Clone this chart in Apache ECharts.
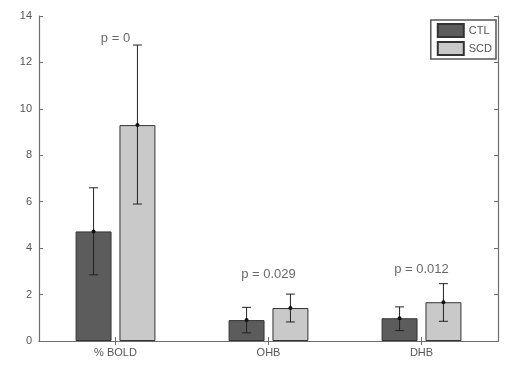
<!DOCTYPE html>
<html>
<head>
<meta charset="utf-8">
<script src="https://cdn.jsdelivr.net/npm/echarts@6/dist/echarts.min.js"></script>
<style>
  html, body { margin: 0; padding: 0; background: #fff; }
  #chart { width: 520px; height: 370px; }
</style>
</head>
<body>
<div id="chart"></div>
<script>
// Data
const categories = ['% BOLD', 'OHB', 'DHB'];
const ctlMean = [4.72, 0.9, 0.98];
const ctlLow = [2.85, 0.35, 0.45];
const ctlHigh = [6.6, 1.45, 1.47];
const scdMean = [9.3, 1.42, 1.67];
const scdLow = [5.9, 0.82, 0.85];
const scdHigh = [12.75, 2.02, 2.47];
const pLabels = ['p = 0', 'p = 0.029', 'p = 0.012'];
const pLabelY = [13.05, 2.85, 3.1];
const yTicks = [0, 2, 4, 6, 8, 10, 12, 14];

const axisColor = '#6e6e6e';
const textColor = '#555';
const font = 'Liberation Sans, Arial, sans-serif';

const barWidthFrac = 0.235;
const barGapFrac = 0.22;

// error bar drawn at the bar's offset within its category
function errorRenderer(sign) {
  return function (params, api) {
    const catW = api.size([1, 0])[0];
    const off = sign * catW * barWidthFrac * (1 + barGapFrac) / 2;
    const lo = api.coord([api.value(0), api.value(1)]);
    const hi = api.coord([api.value(0), api.value(2)]);
    const mid = api.coord([api.value(0), api.value(3)]);
    const cx = mid[0] + off;
    const cap = 4.5;
    const style = { stroke: '#222', lineWidth: 1 };
    return {
      type: 'group',
      children: [
        { type: 'line', shape: { x1: cx, y1: lo[1], x2: cx, y2: hi[1] }, style },
        { type: 'line', shape: { x1: cx - cap, y1: hi[1], x2: cx + cap, y2: hi[1] }, style },
        { type: 'line', shape: { x1: cx - cap, y1: lo[1], x2: cx + cap, y2: lo[1] }, style },
        { type: 'circle', shape: { cx: cx, cy: mid[1], r: 2 }, style: { fill: '#111' } }
      ]
    };
  };
}

const chart = echarts.init(document.getElementById('chart'));

const axisLine = { show: true, lineStyle: { color: axisColor, width: 1.2 } };
const catTick = { show: true, inside: true, length: 4, alignWithLabel: true, lineStyle: { color: axisColor } };
const valTick = { show: true, inside: true, length: 4, lineStyle: { color: axisColor } };

chart.setOption({
  backgroundColor: '#fff',
  animation: false,
  textStyle: { fontFamily: font },
  grid: { left: 39, right: 22, top: 16, bottom: 29 },
  legend: {
    data: ['CTL', 'SCD'],
    orient: 'vertical',
    right: 24,
    top: 20,
    itemWidth: 26,
    itemHeight: 13,
    itemGap: 3,
    padding: [3, 4, 3, 6],
    backgroundColor: '#fff',
    borderColor: '#555',
    borderWidth: 1.5,
    icon: 'rect',
    textStyle: { color: textColor, fontSize: 11, fontFamily: font }
  },
  xAxis: [
    {
      type: 'category',
      data: categories,
      position: 'bottom',
      axisLine: axisLine,
      axisTick: catTick,
      axisLabel: { color: textColor, fontSize: 11, margin: 6 },
      splitLine: { show: false }
    },
    {
      type: 'category',
      data: categories,
      position: 'top',
      axisLine: axisLine,
      axisTick: catTick,
      axisLabel: { show: false },
      splitLine: { show: false }
    }
  ],
  yAxis: [
    {
      type: 'value',
      min: yTicks[0],
      max: yTicks[yTicks.length - 1],
      interval: 2,
      position: 'left',
      axisLine: axisLine,
      axisTick: valTick,
      axisLabel: { color: textColor, fontSize: 11, margin: 7 },
      splitLine: { show: false }
    },
    {
      type: 'value',
      min: yTicks[0],
      max: yTicks[yTicks.length - 1],
      interval: 2,
      position: 'right',
      axisLine: axisLine,
      axisTick: valTick,
      axisLabel: { show: false },
      splitLine: { show: false }
    }
  ],
  series: [
    {
      name: 'CTL',
      type: 'bar',
      data: ctlMean,
      barWidth: (barWidthFrac * 100) + '%',
      barGap: (barGapFrac * 100) + '%',
      itemStyle: { color: '#5c5c5c', borderColor: '#333', borderWidth: 1 }
    },
    {
      name: 'SCD',
      type: 'bar',
      data: scdMean,
      barWidth: (barWidthFrac * 100) + '%',
      barGap: (barGapFrac * 100) + '%',
      itemStyle: { color: '#c9c9c9', borderColor: '#333', borderWidth: 1 }
    },
    {
      type: 'custom',
      renderItem: errorRenderer(-1),
      encode: { x: 0, y: [1, 2] },
      data: categories.map((c, i) => [i, ctlLow[i], ctlHigh[i], ctlMean[i]]),
      z: 5
    },
    {
      type: 'custom',
      renderItem: errorRenderer(1),
      encode: { x: 0, y: [1, 2] },
      data: categories.map((c, i) => [i, scdLow[i], scdHigh[i], scdMean[i]]),
      z: 5
    },
    {
      type: 'scatter',
      symbol: 'circle',
      symbolSize: 1,
      itemStyle: { color: 'rgba(0,0,0,0)' },
      data: categories.map((c, i) => [i, pLabelY[i]]),
      label: {
        show: true,
        position: 'inside',
        formatter: p => pLabels[p.dataIndex],
        color: '#444',
        fontSize: 13,
        fontFamily: font
      },
      silent: true,
      z: 6
    }
  ]
});
</script>
</body>
</html>
